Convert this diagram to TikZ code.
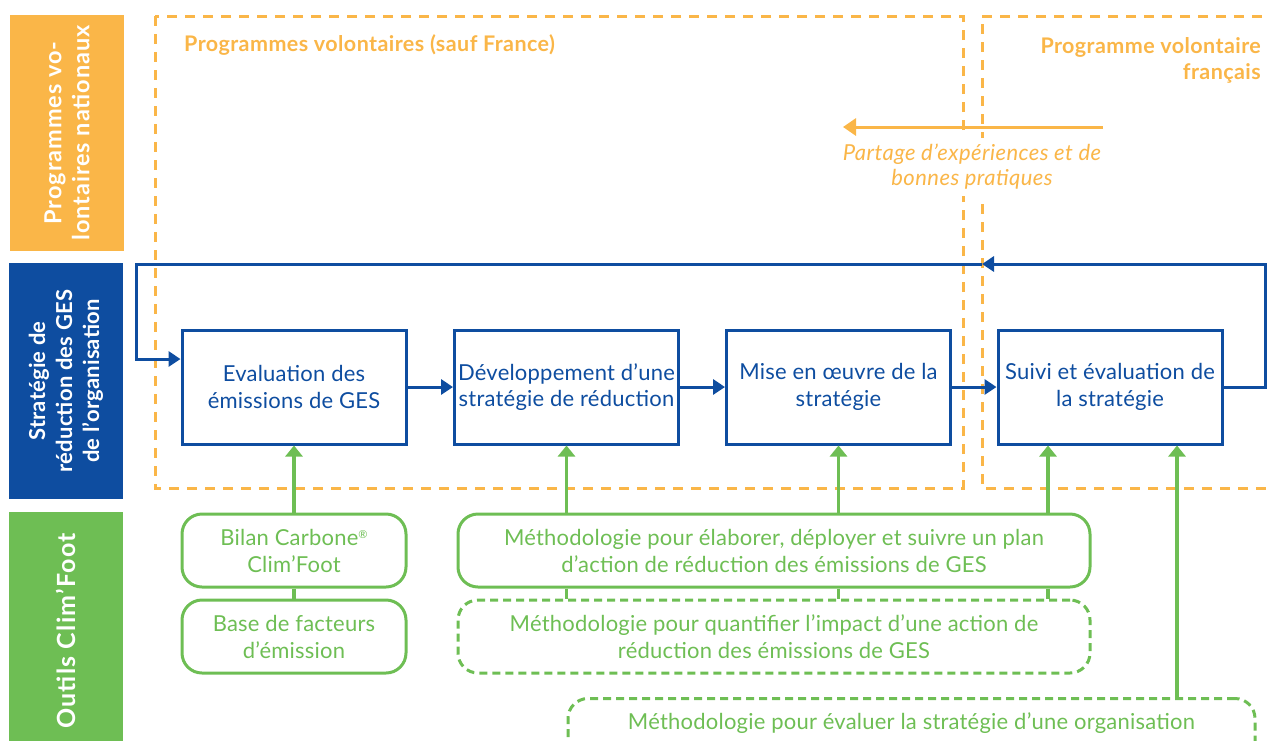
\documentclass[tikz,border=0pt]{standalone}
\usepackage{fontspec}
\setmainfont{Lato}
\usetikzlibrary{arrows.meta}
\definecolor{corange}{RGB}{250,182,72}
\definecolor{cblue}{RGB}{14,77,160}
\definecolor{cgreen}{RGB}{110,190,84}
\begin{document}
\begin{tikzpicture}[x=1pt,y=-1pt,
  sidebar/.style={rotate=90,text=white,align=center,inner sep=0pt,font=\bfseries\fontsize{22}{27}\selectfont\addfontfeatures{LetterSpace=1}},
  stepbox/.style={draw=cblue,line width=3pt,minimum width=224pt,minimum height=114pt,inner sep=0pt,text=cblue,align=center,font=\fontsize{22}{26.5}\selectfont\addfontfeatures{LetterSpace=1}},
  toolbox/.style={draw=cgreen,line width=3pt,rounded corners=20pt,inner sep=0pt,text=cgreen,align=center,font=\fontsize{22}{27}\selectfont\addfontfeatures{LetterSpace=1}},
  dashtool/.style={toolbox,dash pattern=on 8pt off 5pt},
  region/.style={corange,line width=3pt,dash pattern=on 10pt off 8pt},
  flow/.style={cblue,line width=3pt,-{Triangle[length=12pt,width=15pt]}},
  tool/.style={cgreen,line width=3.2pt,-{Triangle[length=11pt,width=17pt]}},
  link/.style={cgreen,line width=3.2pt},
  otitle/.style={text=corange,inner sep=0pt,font=\bfseries\fontsize{21.5}{26}\selectfont\addfontfeatures{LetterSpace=2}}
]
\useasboundingbox (0,0) rectangle (1270,740);

% side bars
\node[sidebar,fill=corange,minimum width=236pt,minimum height=114pt,font=\bfseries\fontsize{23.5}{28}\selectfont\addfontfeatures{LetterSpace=4}] (s1) at (67,133) {Programmes vo-\\lontaires nationaux};
\node[sidebar,fill=cblue,minimum width=236pt,minimum height=114pt] (s2) at (66,381) {Stratégie de\\réduction des GES\\de l’organisation};
\node[sidebar,fill=cgreen,minimum width=238pt,minimum height=114pt,font=\bfseries\fontsize{25}{27}\selectfont\addfontfeatures{LetterSpace=5}] (s3) at (66,631) {Outils Clim’Foot};

% regions
\draw[region] (155,16) rectangle (963,488);
\draw[region] (1280,16) -- (982,16) -- (982,488) -- (1280,488);
\node[otitle,anchor=west] (r1) at (184,45) {Programmes volontaires (sauf France)};
\node[otitle,anchor=north east,align=right] (r2) at (1261,37) {Programme volontaire\\français};

% sharing arrow
\coordinate (sh1) at (1103,127);
\coordinate (sh0) at (843,127);
\draw[corange,line width=3pt,-{Triangle[length=13pt,width=17pt]}] (sh1) -- (sh0);
\node[fill=white,text=corange,align=center,inner xsep=2pt,inner ysep=6pt,font=\itshape\fontsize{22}{25}\selectfont\addfontfeatures{LetterSpace=2}] (sh) at (972,167) {Partage d’expériences et de\\bonnes pratiques};

% steps
\node[stepbox] (b1) at (294,387) {Evaluation des\\émissions de GES};
\node[stepbox] (b2) at (566.5,387) {Développement d’une\\stratégie de réduction};
\node[stepbox] (b3) at (838.5,387) {Mise en œuvre de la\\stratégie};
\node[stepbox] (b4) at (1110,387) {Suivi et évaluation de\\la stratégie};
\draw[flow] (b1.east) -- (b2.west);
\draw[flow] (b2.east) -- (b3.west);
\draw[flow] (b3.east) -- (b4.west);

% feedback loop
\coordinate (la) at (982,264);
\coordinate (lb) at (136,264);
\coordinate (entry) at ([yshift=28pt]b1.west);
\draw[flow] (b4.east) -- ++(42,0) |- (la);
\draw[flow] (la) -- (lb) |- (entry);

% tools
\node[toolbox,minimum width=224pt,minimum height=73pt] (t1) at (294,550.5) {Bilan Carbone{\fontsize{11}{11}\selectfont\raisebox{7pt}{®}}\\Clim’Foot};
\node[toolbox,minimum width=224pt,minimum height=73pt] (t2) at (294,636.5) {Base de facteurs\\d’émission};
\node[toolbox,minimum width=632pt,minimum height=73pt] (t3) at (774,550.5) {Méthodologie pour élaborer, déployer et suivre un plan\\d’action de réduction des émissions de GES};
\node[dashtool,minimum width=632pt,minimum height=73pt] (t4) at (774,636.5) {Méthodologie pour quantifier l’impact d’une action de\\réduction des émissions de GES};
\node[dashtool,minimum width=687pt,minimum height=80pt,anchor=north] (t5) at (911.5,697) {};
\node[text=cgreen,inner sep=0pt,font=\fontsize{22}{27}\selectfont\addfontfeatures{LetterSpace=1}] (t5txt) at (911.5,723) {Méthodologie pour évaluer la stratégie d’une organisation};

\coordinate (x4) at (1048,0);
\coordinate (x5) at (1177,0);
\draw[tool] (t1.north) -- (b1.south);
\draw[tool] (t3.north -| b2.south) -- (b2.south);
\draw[tool] (t3.north -| b3.south) -- (b3.south);
\draw[tool] (x4 |- t3.north) -- (x4 |- b4.south);
\draw[tool] (x5 |- t5.north) -- (x5 |- b4.south);
\draw[link] (t1.south) -- (t2.north);
\draw[link] (t3.south -| b2.south) -- (t4.north -| b2.south);
\draw[link] (t3.south -| b3.south) -- (t4.north -| b3.south);
\draw[link] (x4 |- t3.south) -- (x4 |- t4.north);
\end{tikzpicture}
\end{document}
